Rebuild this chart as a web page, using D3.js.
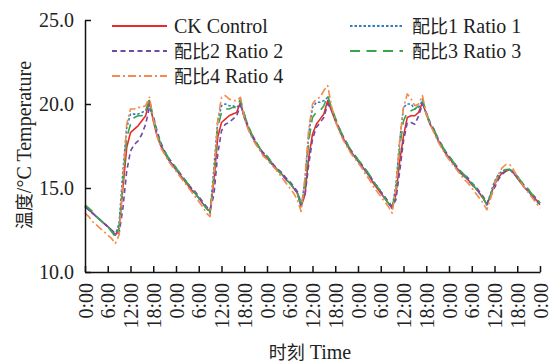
<!DOCTYPE html>
<html>
<head>
<meta charset="utf-8">
<script src="https://cdn.jsdelivr.net/npm/d3@7"></script>
<style>
  html, body { margin: 0; padding: 0; background: #fff; }
  svg { display: block; }
</style>
</head>
<body>
<svg id="chart" width="550" height="363"></svg>
<script>
// Hourly temperature readings (°C), five days, 0:00 of day 1 through 0:00 of day 6
const ckControl = [
  13.9,13.7,13.5,13.3,13.1,12.9,12.7,12.5,12.2,12.6,15.0,17.4,18.3,18.5,18.7,19.0,19.3,20.2,19.0,18.1,17.5,17.1,16.7,16.4,
  16.1,15.8,15.5,15.2,14.9,14.7,14.4,14.1,13.8,13.6,15.4,18.0,18.9,19.1,19.3,19.4,19.5,20.1,19.2,18.6,18.1,17.7,17.4,17.0,
  16.8,16.5,16.3,16.0,15.8,15.5,15.3,15.0,14.7,13.9,14.6,16.8,18.2,18.8,19.1,19.4,20.2,19.6,19.0,18.5,18.0,17.6,17.2,16.9,
  16.6,16.3,16.0,15.7,15.3,15.0,14.7,14.4,14.1,13.8,14.6,16.6,18.1,19.2,19.3,19.3,19.5,20.1,19.4,18.8,18.4,17.9,17.5,17.1,
  16.8,16.5,16.2,15.9,15.7,15.5,15.2,15.0,14.7,14.4,14.0,14.6,15.2,15.6,15.9,16.0,16.1,15.9,15.6,15.3,15.0,14.8,14.5,14.3,
  14.0
];
const ratio1 = [
  13.9,13.7,13.5,13.3,13.1,12.9,12.7,12.5,12.2,12.9,16.0,18.6,19.4,19.4,19.4,19.5,19.6,19.9,19.1,18.2,17.6,17.1,16.7,16.4,
  16.1,15.8,15.5,15.3,15.0,14.7,14.4,14.1,13.8,13.5,16.2,19.0,19.9,20.0,19.9,19.9,19.8,20.0,19.2,18.6,18.1,17.7,17.3,17.0,
  16.8,16.5,16.2,16.0,15.8,15.5,15.3,15.0,14.7,13.9,15.4,18.2,19.8,20.1,20.1,20.2,20.4,19.7,19.1,18.5,18.0,17.6,17.2,16.9,
  16.6,16.3,16.0,15.7,15.4,15.1,14.8,14.4,14.1,13.8,15.2,17.8,19.8,20.0,20.0,19.7,19.8,20.2,19.4,18.8,18.4,17.9,17.5,17.1,
  16.8,16.5,16.2,15.9,15.7,15.5,15.2,15.0,14.7,14.4,14.0,14.7,15.4,15.8,16.0,16.1,16.1,15.9,15.6,15.3,15.0,14.8,14.5,14.2,
  14.0
];
const ratio2 = [
  13.9,13.7,13.5,13.3,13.1,12.9,12.7,12.5,12.3,12.3,13.8,16.0,17.2,17.6,17.8,18.2,18.8,19.8,19.3,18.4,17.7,17.2,16.8,16.5,
  16.2,15.9,15.6,15.3,15.0,14.8,14.5,14.2,13.9,13.7,14.6,17.0,18.4,18.8,18.9,19.1,19.3,19.9,19.4,18.7,18.2,17.8,17.4,17.1,
  16.9,16.6,16.3,16.1,15.9,15.6,15.4,15.1,14.8,14.1,14.5,16.4,17.9,18.6,18.9,19.2,20.0,19.7,19.1,18.6,18.1,17.7,17.3,17.0,
  16.7,16.4,16.1,15.8,15.4,15.1,14.8,14.5,14.2,13.9,14.3,16.0,17.8,18.9,18.9,18.8,19.3,20.0,19.5,18.9,18.5,18.0,17.6,17.2,
  16.9,16.6,16.3,16.0,15.8,15.6,15.3,15.1,14.8,14.5,14.1,14.5,15.0,15.5,15.8,16.0,16.1,15.9,15.7,15.4,15.1,14.9,14.6,14.4,
  14.1
];
const ratio3 = [
  14.0,13.8,13.6,13.3,13.1,12.9,12.7,12.4,12.1,12.6,15.3,18.0,18.8,19.2,19.3,19.3,19.6,20.3,19.2,18.3,17.6,17.2,16.8,16.5,
  16.2,15.9,15.6,15.3,15.0,14.7,14.4,14.1,13.8,13.6,15.7,18.6,19.5,19.7,19.7,19.8,19.8,20.3,19.4,18.7,18.2,17.8,17.4,17.1,
  16.9,16.6,16.3,16.0,15.8,15.5,15.3,15.0,14.7,13.9,15.1,17.8,19.2,19.5,19.6,19.9,20.5,19.8,19.2,18.6,18.1,17.7,17.3,17.0,
  16.7,16.4,16.1,15.8,15.4,15.1,14.8,14.4,14.1,13.8,14.9,17.4,19.0,19.5,19.6,19.7,19.9,20.3,19.5,18.9,18.5,18.0,17.6,17.2,
  16.9,16.6,16.3,16.0,15.8,15.5,15.3,15.0,14.7,14.4,14.0,14.6,15.3,15.7,16.0,16.1,16.1,16.0,15.7,15.4,15.1,14.9,14.6,14.4,
  14.1
];
const ratio4 = [
  13.5,13.3,13.0,12.8,12.6,12.4,12.2,12.0,11.7,12.2,15.5,18.8,19.7,19.7,19.8,19.8,19.9,20.4,19.1,18.1,17.4,17.0,16.6,16.3,
  16.0,15.7,15.4,15.1,14.8,14.5,14.2,13.9,13.5,13.3,15.8,19.0,20.4,20.5,20.3,20.2,20.2,20.4,19.2,18.5,18.0,17.6,17.3,16.9,
  16.7,16.4,16.2,15.9,15.6,15.3,15.0,14.7,14.3,13.6,15.6,18.5,20.0,20.3,20.4,20.8,21.1,19.9,19.0,18.4,17.9,17.5,17.1,16.8,
  16.5,16.2,15.8,15.5,15.1,14.8,14.5,14.2,13.9,13.5,15.0,17.8,19.8,20.6,20.3,19.9,20.0,20.5,19.4,18.8,18.3,17.8,17.4,17.0,
  16.7,16.4,16.1,15.8,15.5,15.3,15.0,14.7,14.4,14.1,13.7,14.4,15.2,15.8,16.2,16.4,16.4,16.1,15.7,15.3,15.0,14.7,14.4,14.1,
  13.8
];

const seriesNames = ["CK Control", "配比1 Ratio 1", "配比2 Ratio 2", "配比3 Ratio 3", "配比4 Ratio 4"];
const seriesValues = [ckControl, ratio1, ratio2, ratio3, ratio4];

// Axis ticks: every 6 h along the x axis, every 5 °C on the y axis
const xTickHours = [0,6,12,18,24,30,36,42,48,54,60,66,72,78,84,90,96,102,108,114,120];
const xTickLabels = ["0:00","6:00","12:00","18:00","0:00","6:00","12:00","18:00","0:00","6:00","12:00","18:00",
                     "0:00","6:00","12:00","18:00","0:00","6:00","12:00","18:00","0:00"];
const yTicks = [10, 15, 20, 25];

const xTitle = "时刻 Time";
const yTitle = "温度/°C Temperature";

// Styling per series
const colors = ["#ea2a2a", "#2b7cc9", "#6f4aa6", "#3aa64c", "#f58a4a"];
const dashes = [null, "2.5,2", "5,3.5", "10,6.5", "8,3,2,3"];

const LATIN = "'Liberation Serif', 'Times New Roman', serif";
const CJK = "'Noto Sans CJK SC', sans-serif";
const INK = "#222";

// Write a label as runs: Han characters in the CJK face, everything else in the serif face
function writeMixed(textSel, str) {
  const runs = str.match(/[\u3400-\u9fff]+|[^\u3400-\u9fff]+/g) || [];
  runs.forEach(r => {
    const isHan = /[\u3400-\u9fff]/.test(r);
    textSel.append("tspan")
      .attr("font-family", isHan ? CJK : LATIN)
      .style("font-size", isHan ? "18px" : "20px")
      .text(r);
  });
}

const svg = d3.select("#chart");
const W = 550, H = 363;
const margin = { left: 85, right: 10, top: 20, bottom: 91 };

const x = d3.scaleLinear().domain([0, 120]).range([margin.left, 540]);
const y = d3.scaleLinear().domain([10, 25]).range([H - margin.bottom, margin.top]);

// Series lines
const line = d3.line()
  .x((d, i) => x(i))
  .y(d => y(d));

const gLines = svg.append("g");
seriesValues.forEach((vals, k) => {
  gLines.append("path")
    .datum(vals)
    .attr("fill", "none")
    .attr("stroke", colors[k])
    .attr("stroke-width", 1.6)
    .attr("stroke-dasharray", dashes[k])
    .attr("stroke-linejoin", "round")
    .attr("d", line);
});

// Y axis, ticks pointing inward
const yAxis = d3.axisLeft(y)
  .tickValues(yTicks)
  .tickFormat(d3.format(".1f"))
  .tickSizeInner(-6)
  .tickSizeOuter(0)
  .tickPadding(11);
const gy = svg.append("g")
  .attr("transform", `translate(${margin.left},0)`)
  .call(yAxis)
  .attr("font-family", LATIN)
  .attr("font-size", 20);
gy.selectAll("text").attr("fill", INK);

// X axis, ticks pointing inward, labels turned upright
const xAxis = d3.axisBottom(x)
  .tickValues(xTickHours)
  .tickFormat((d, i) => xTickLabels[i])
  .tickSizeInner(-6)
  .tickSizeOuter(0);
const gx = svg.append("g")
  .attr("transform", `translate(0,${y(10)})`)
  .call(xAxis)
  .attr("font-family", LATIN)
  .attr("font-size", 20);
gx.selectAll("text")
  .attr("fill", INK)
  .attr("text-anchor", "end")
  .attr("transform", "rotate(-90)")
  .attr("x", -11)
  .attr("y", 0)
  .attr("dy", "0.35em");

svg.selectAll(".domain, .tick line").attr("stroke", "#111").attr("stroke-width", 1.5);

// Axis titles
svg.append("text")
  .attr("x", 310).attr("y", 359)
  .attr("text-anchor", "middle")
  .attr("fill", INK)
  .call(writeMixed, xTitle);

svg.append("text")
  .attr("transform", "translate(31,145) rotate(-90)")
  .attr("text-anchor", "middle")
  .attr("fill", INK)
  .call(writeMixed, yTitle);

// Legend in two columns
const legendCols = [{ x0: 112, x1: 167, tx: 174 }, { x0: 350, x1: 403, tx: 412 }];
const legendRows = [26, 51, 76];
const legend = svg.append("g");
seriesNames.forEach((name, k) => {
  const col = legendCols[k % 2];
  const ry = legendRows[Math.floor(k / 2)];
  legend.append("line")
    .attr("x1", col.x0).attr("x2", col.x1)
    .attr("y1", ry).attr("y2", ry)
    .attr("stroke", colors[k])
    .attr("stroke-width", 1.8)
    .attr("stroke-dasharray", dashes[k]);
  legend.append("text")
    .attr("x", col.tx).attr("y", ry + 7)
    .attr("fill", INK)
    .call(writeMixed, name);
});
</script>
</body>
</html>
